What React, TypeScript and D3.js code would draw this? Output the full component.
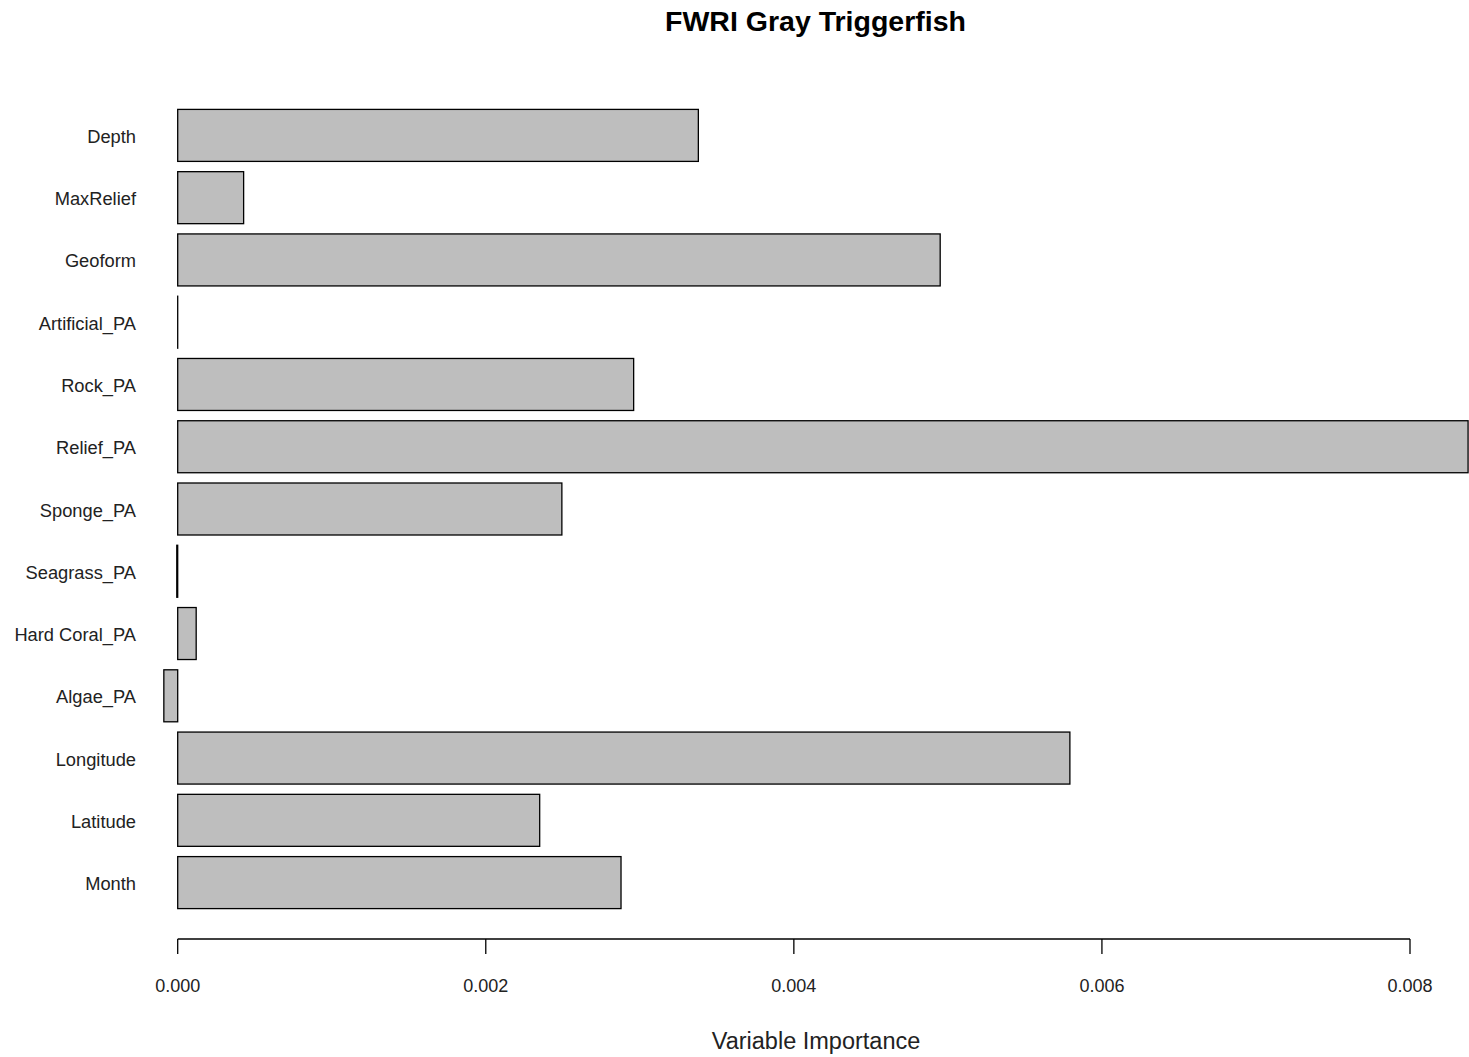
import React from "react";
import * as d3 from "d3";

const categories = [
  "Depth",
  "MaxRelief",
  "Geoform",
  "Artificial_PA",
  "Rock_PA",
  "Relief_PA",
  "Sponge_PA",
  "Seagrass_PA",
  "Hard Coral_PA",
  "Algae_PA",
  "Longitude",
  "Latitude",
  "Month",
];
const importance = [
  0.00338, 0.000428, 0.00495, 0.0, 0.00296, 0.008377, 0.002494, -0.000006,
  0.00012, -0.00009, 0.005792, 0.00235, 0.002878,
];
const ticks = [0, 0.002, 0.004, 0.006, 0.008];

const W = 1469;
const H = 1057;

export default function App() {
  const x = d3.scaleLinear().domain([0, 0.008]).range([177.7, 1410]);
  const y = d3.scalePoint<string>().domain(categories).range([135.4, 882.6]);
  const bh = 52;
  const font = "'Liberation Sans', Arial, sans-serif";
  return (
    <svg
      width={W}
      height={H}
      style={{ position: "absolute", left: 0, top: 0, background: "#fff" }}
      fontFamily={font}
    >
      <text x={815.5} y={31} textAnchor="middle" fontSize={28.5} fontWeight="bold" fill="#000">
        FWRI Gray Triggerfish
      </text>
      {categories.map((c, i) => {
        const v = importance[i];
        const x0 = x(Math.min(0, v));
        const x1 = x(Math.max(0, v));
        const cy = y(c)!;
        return (
          <g key={c}>
            <rect
              x={x0}
              y={cy - bh / 2}
              width={Math.max(x1 - x0, 0.01)}
              height={bh}
              fill="#bebebe"
              stroke="#000"
              strokeWidth={1.3}
            />
            <text x={136} y={cy + 7.5} textAnchor="end" fontSize={18.3} fill="#222">
              {c}
            </text>
          </g>
        );
      })}
      <line x1={x(0)} x2={x(0.008)} y1={939} y2={939} stroke="#000" strokeWidth={1.3} />
      {ticks.map((t) => (
        <g key={t}>
          <line x1={x(t)} x2={x(t)} y1={939} y2={954} stroke="#000" strokeWidth={1.3} />
          <text x={x(t)} y={992} textAnchor="middle" fontSize={18} fill="#222">
            {d3.format(".3f")(t)}
          </text>
        </g>
      ))}
      <text x={816} y={1049} textAnchor="middle" fontSize={23.5} fill="#222">
        Variable Importance
      </text>
    </svg>
  );
}
